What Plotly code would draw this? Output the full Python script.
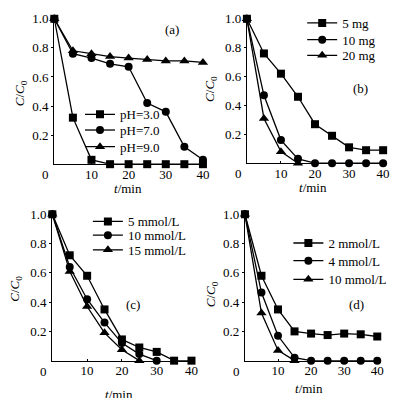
import plotly.graph_objects as go

W, H = 403, 398
FONT = "Liberation Serif"

t = [0, 5, 10, 15, 20, 25, 30, 35, 40]

# (a) effect of pH
a_ph3 = [1.0, 0.32, 0.03, 0.0, 0.0, 0.0, 0.0, 0.0, 0.0]
a_ph7 = [1.0, 0.76, 0.73, 0.69, 0.67, 0.42, 0.36, 0.12, 0.03]
a_ph9 = [1.0, 0.78, 0.76, 0.74, 0.73, 0.72, 0.71, 0.71, 0.70]
# (b) effect of dosage
b_5 = [1.0, 0.76, 0.62, 0.46, 0.27, 0.19, 0.11, 0.09, 0.09]
b_10 = [1.0, 0.47, 0.16, 0.03, 0.0, 0.0, 0.0, 0.0, 0.0]
b_20 = [1.0, 0.31, 0.08, 0.0]
# (c)
c_5 = [1.0, 0.72, 0.58, 0.35, 0.145, 0.09, 0.06, 0.0, 0.0]
c_10 = [1.0, 0.64, 0.42, 0.26, 0.12, 0.045, 0.0]
c_15 = [1.0, 0.61, 0.37, 0.19, 0.075, 0.0]
# (d)
d_2 = [1.0, 0.58, 0.35, 0.20, 0.185, 0.175, 0.185, 0.18, 0.165]
d_4 = [1.0, 0.465, 0.17, 0.02, 0.0, 0.0, 0.0, 0.0, 0.0]
d_10 = [1.0, 0.325, 0.07, 0.0]

names_a = ["pH=3.0", "pH=7.0", "pH=9.0"]
names_b = ["5 mg", "10 mg", "20 mg"]
names_c = ["5 mmol/L", "10 mmol/L", "15 mmol/L"]
names_d = ["2 mmol/L", "4 mmol/L", "10 mmol/L"]
panel_labels = ["(a)", "(b)", "(c)", "(d)"]
x_ticks = [10, 20, 30, 40]
y_ticks = [0.2, 0.4, 0.6, 0.8, 1.0]
y_ticktext = ["0.2", "0.4", "0.6", "0.8", "1.0"]
x_title = "<i>t</i>/min"
y_title = "<i>C</i>/<i>C</i><sub>0</sub>"

symbols = ["square", "circle", "triangle-up"]
sizes = [8, 8, 9]

panels = [
    (names_a, [a_ph3, a_ph7, a_ph9]),
    (names_b, [b_5, b_10, b_20]),
    (names_c, [c_5, c_10, c_15]),
    (names_d, [d_2, d_4, d_10]),
]

# pixel boxes for each panel: (left, right, top, bottom)
boxes = [(55, 207, 12, 160), (250, 390, 12, 159), (53, 196, 211, 360), (248, 384, 211, 360)]
xranges = [[0, 40.4], [0, 40.6], [0, 40.6], [0, 40.6]]
# legend: left x and centre y of each of the three entries
legend_x = [81, 306, 89, 292]
legend_y = [(109, 125, 142), (16, 33, 49), (218, 232, 247), (240, 258, 277)]
LEG_OFF = 15
label_pos = [(174, 23), (365, 83), (135, 303), (361, 303)]
xtitle_pos = [(130, 185), (317, 184), (120, 394), (313, 388)]
ytitle_pos = [(21, 88), (213, 83), (16, 287), (215, 292)]

fig = go.Figure()
annotations = []
layout = dict(
    width=W, height=H, margin=dict(l=0, r=0, t=0, b=0),
    paper_bgcolor="white", plot_bgcolor="white", showlegend=True,
    font=dict(family=FONT, size=13, color="black"),
)

n_leg = 0
for i, (names, series) in enumerate(panels):
    k = "" if i == 0 else str(i + 1)
    for j, (nm, ys) in enumerate(zip(names, series)):
        n_leg += 1
        lg = "legend" if n_leg == 1 else "legend" + str(n_leg)
        fig.add_trace(go.Scatter(
            x=t[:len(ys)], y=ys, name=nm, mode="lines+markers",
            xaxis="x" + k, yaxis="y" + k, legend=lg, showlegend=True,
            line=dict(color="black", width=1.3),
            marker=dict(symbol=symbols[j], size=sizes[j], color="black"),
            cliponaxis=False,
        ))
        layout[lg] = dict(
            x=legend_x[i] / W, y=(H - (legend_y[i][j] - LEG_OFF)) / H,
            xanchor="left", yanchor="top",
            bgcolor="rgba(0,0,0,0)", font=dict(family=FONT, size=13),
            itemwidth=30,
        )
    l, r, tp, bt = boxes[i]
    layout["xaxis" + k] = dict(
        domain=[l / W, r / W], range=xranges[i], anchor="y" + k,
        tickvals=x_ticks, ticks="inside", ticklen=2, tickcolor="black",
        showline=True, linecolor="black", linewidth=1.3, showgrid=False, zeroline=False,
        tickfont=dict(family=FONT, size=13), ticklabelstandoff=-2,
    )
    layout["yaxis" + k] = dict(
        domain=[(H - bt) / H, (H - tp) / H], range=[0, 1.0], anchor="x" + k,
        tickvals=y_ticks, ticktext=y_ticktext,
        ticks="outside", ticklen=2, tickcolor="black",
        showline=True, linecolor="black", linewidth=1.3, showgrid=False, zeroline=False,
        tickfont=dict(family=FONT, size=13),
    )
    # origin "0"
    annotations.append(dict(
        text="0", x=(l - 3) / W, y=(H - bt - 1) / H, xref="paper", yref="paper",
        xanchor="right", yanchor="top", showarrow=False,
        font=dict(family=FONT, size=13),
    ))
    px, py = label_pos[i]
    annotations.append(dict(
        text=panel_labels[i], x=px / W, y=(H - py) / H, xref="paper", yref="paper",
        xanchor="center", yanchor="middle", showarrow=False,
        font=dict(family=FONT, size=13),
    ))
    tx, ty = xtitle_pos[i]
    annotations.append(dict(
        text=x_title, x=tx / W, y=(H - ty) / H, xref="paper", yref="paper",
        xanchor="center", yanchor="middle", showarrow=False,
        font=dict(family=FONT, size=13),
    ))
    yx, yy = ytitle_pos[i]
    annotations.append(dict(
        text=y_title, x=yx / W, y=(H - yy) / H, xref="paper", yref="paper",
        xanchor="center", yanchor="middle", showarrow=False, textangle=-90,
        font=dict(family=FONT, size=13),
    ))

layout["annotations"] = annotations
fig.update_layout(**layout)
fig.write_html("out.html", config={"displayModeBar": False},
               post_script="document.body.style.margin='0';")
